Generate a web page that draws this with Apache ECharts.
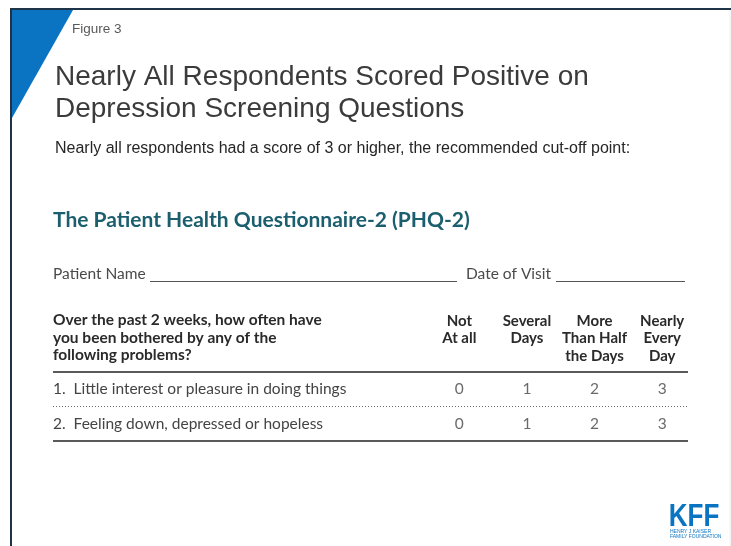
<!DOCTYPE html>
<html>
<head>
<meta charset="utf-8">
<script src="https://cdn.jsdelivr.net/npm/echarts@6/dist/echarts.min.js"></script>
<style>
html,body{margin:0;padding:0;background:#fff;}
#c{width:731px;height:546px;}
</style>
</head>
<body>
<div id="c"></div>
<script>
// ---- data ----
var figureLabel = 'Figure 3';
var titleLines = ['Nearly All Respondents Scored Positive on', 'Depression Screening Questions'];
var subtitle = 'Nearly all respondents had a score of 3 or higher, the recommended cut-off point:';
var formTitle = 'The Patient Health Questionnaire-2 (PHQ-2)';
var questionHeader = ['Over the past 2 weeks, how often have', 'you been bothered by any of the', 'following problems?'];
var answerCategories = ['Not\nAt all', 'Several\nDays', 'More\nThan Half\nthe Days', 'Nearly\nEvery\nDay'];
var questions = ['1.  Little interest or pleasure in doing things', '2.  Feeling down, depressed or hopeless'];
var scoresQ1 = [0, 1, 2, 3];
var scoresQ2 = [0, 1, 2, 3];

// ---- build ----
var allScores = [scoresQ1, scoresQ2];
var points = [];
allScores.forEach(function (row, r) {
  row.forEach(function (v, c) { points.push([c, r, v]); });
});

var formFont = 'Lato, "Noto Sans", sans-serif';
var arial = '"Liberation Sans", Arial, sans-serif';
var chart = echarts.init(document.getElementById('c'), null, {renderer: 'canvas'});

function txt(x, y, text, font, fill, align, valign) {
  return {type: 'text', x: x, y: y, silent: true,
    style: {text: text, font: font, fill: fill, align: align || 'left', verticalAlign: valign || 'middle',
      textAlign: align || 'left', textVerticalAlign: valign || 'middle'}};
}
function line(x1, y1, x2, y2, color, w, dash) {
  return {type: 'line', silent: true, shape: {x1: x1, y1: y1, x2: x2, y2: y2},
    style: {stroke: color, lineWidth: w, lineDash: dash || null}};
}

var kff = txt(0, 0, 'KFF', 'bold 31px ' + arial, '#0b74c2', 'center');
kff.x = 694; kff.y = 517; kff.scaleX = 0.84;

var gridLeft = 425.5;

var graphics = [
  // frame
  line(10, 9, 731, 9, '#1f3349', 2),
  line(11, 8, 11, 546, '#1f3349', 2),
  line(730, 10, 730, 546, '#eeeeee', 1),
  {type: 'polygon', silent: true, shape: {points: [[12, 10], [73, 10], [12, 118]]}, style: {fill: '#0b74c2'}},
  txt(72, 29, figureLabel, '13.5px ' + arial, '#595959'),
  txt(55, 77, titleLines[0], '28px ' + arial, '#3b3b3b'),
  txt(55, 109, titleLines[1], '28px ' + arial, '#3b3b3b'),
  txt(55, 149, subtitle, '16px ' + arial, '#262626'),
  txt(53, 220, formTitle, 'bold 21px ' + formFont, '#1b5e6e'),
  txt(53, 274, 'Patient Name', '15.5px ' + formFont, '#4a4a4a'),
  line(150, 281.5, 457, 281.5, '#555555', 1),
  txt(466, 274, 'Date of Visit', '15.5px ' + formFont, '#4a4a4a'),
  line(556, 281.5, 685, 281.5, '#555555', 1),
  txt(53, 320, questionHeader[0], 'bold 15.5px ' + formFont, '#2a2a2a'),
  txt(53, 337.5, questionHeader[1], 'bold 15.5px ' + formFont, '#2a2a2a'),
  txt(53, 355, questionHeader[2], 'bold 15.5px ' + formFont, '#2a2a2a'),
  line(53, 372, 688, 372, '#5a5a5a', 2),
  line(53, 406.5, 688, 406.5, '#6a6a6a', 1.2, [1, 2]),
  line(53, 441, 688, 441, '#5a5a5a', 2),
  // KFF logo
  kff,
  txt(670, 532, 'HENRY J KAISER', '5px ' + arial, '#0b74c2'),
  txt(670, 537, 'FAMILY FOUNDATION', '5px ' + arial, '#0b74c2')
];

chart.setOption({
  animation: false,
  backgroundColor: '#ffffff',
  grid: {left: gridLeft, right: 35, top: 372, bottom: 546 - 441},
  xAxis: {
    type: 'category', position: 'top', data: answerCategories,
    axisLine: {show: false}, axisTick: {show: false}, splitLine: {show: false},
    axisLabel: {interval: 0, margin: 60, verticalAlign: 'top', align: 'center',
      fontFamily: formFont, fontWeight: 'bold', fontSize: 15, lineHeight: 17.5, color: '#2a2a2a'}
  },
  yAxis: {
    type: 'category', inverse: true, data: questions,
    axisLine: {show: false}, axisTick: {show: false}, splitLine: {show: false},
    axisLabel: {interval: 0, margin: gridLeft - 53, align: 'left',
      fontFamily: formFont, fontSize: 15.5, color: '#444444'}
  },
  series: [{
    type: 'scatter', data: points, symbolSize: 0, silent: true,
    label: {show: true, position: 'inside', formatter: function (p) { return String(p.value[2]); },
      fontFamily: formFont, fontSize: 15.5, color: '#444444'}
  }],
  graphic: graphics
});
</script>
</body>
</html>
